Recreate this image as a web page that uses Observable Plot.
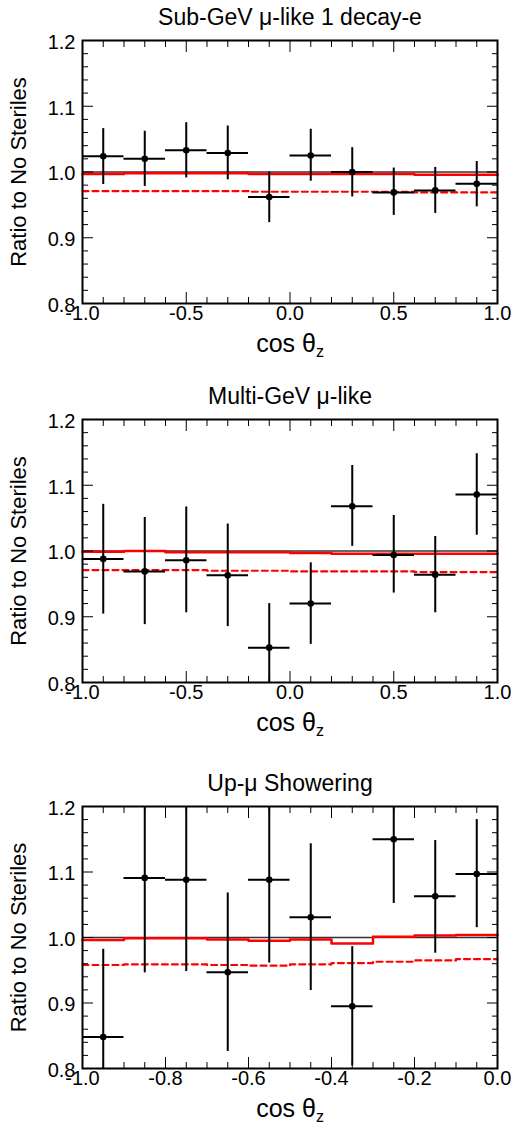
<!DOCTYPE html>
<html><head><meta charset="utf-8">
<script src="https://cdn.jsdelivr.net/npm/d3@7"></script>
<script src="https://cdn.jsdelivr.net/npm/@observablehq/plot@0.6"></script>
<style>body{margin:0;background:#fff;} #c svg{display:block;}</style>
</head><body><div id="c"></div>
<script>
// ---- data ----
const titles = ["Sub-GeV \u03bc-like 1 decay-e", "Multi-GeV \u03bc-like", "Up-\u03bc Showering"];
const yLabel = "Ratio to No Steriles";
const xLabel = "cos \u03b8z";

const centersFull = [-0.9, -0.7, -0.5, -0.3, -0.1, 0.1, 0.3, 0.5, 0.7, 0.9];
const centersUp = [-0.95, -0.85, -0.75, -0.65, -0.55, -0.45, -0.35, -0.25, -0.15, -0.05];

const p1Val = [1.024, 1.020, 1.033, 1.029, 0.962, 1.025, 1.000, 0.969, 0.972, 0.982];
const p1Lo  = [0.981, 0.978, 0.991, 0.988, 0.923, 0.986, 0.962, 0.934, 0.937, 0.947];
const p1Hi  = [1.066, 1.062, 1.075, 1.070, 1.000, 1.065, 1.037, 1.006, 1.007, 1.016];
const p1Solid = [0.997, 0.998, 0.998, 0.998, 0.997, 0.997, 0.997, 0.997, 0.996, 0.996];
const p1Dash  = [0.971, 0.971, 0.971, 0.971, 0.970, 0.970, 0.970, 0.970, 0.969, 0.969];

const p2Val = [0.988, 0.969, 0.986, 0.963, 0.853, 0.920, 1.068, 0.994, 0.964, 1.086];
const p2Lo  = [0.904, 0.888, 0.906, 0.885, 0.786, 0.858, 1.007, 0.936, 0.906, 1.024];
const p2Hi  = [1.071, 1.051, 1.067, 1.041, 0.920, 0.982, 1.130, 1.054, 1.022, 1.148];
const p2Solid = [0.999, 1.000, 0.998, 0.998, 0.998, 0.997, 0.996, 0.996, 0.996, 0.996];
const p2Dash  = [0.971, 0.971, 0.971, 0.970, 0.970, 0.969, 0.969, 0.969, 0.968, 0.968];

const p3Val = [0.848, 1.091, 1.088, 0.947, 1.088, 1.031, 0.895, 1.150, 1.063, 1.097];
const p3Lo  = [0.710, 0.946, 0.948, 0.826, 0.961, 0.919, 0.804, 1.052, 0.976, 1.015];
const p3Hi  = [0.982, 1.240, 1.240, 1.068, 1.230, 1.143, 0.986, 1.250, 1.148, 1.180];
const p3Solid = [0.996, 0.999, 0.999, 0.997, 0.995, 0.997, 0.991, 1.001, 1.003, 1.004];
const p3Dash  = [0.958, 0.959, 0.959, 0.958, 0.957, 0.959, 0.961, 0.963, 0.965, 0.967];

const yMajor = [0.8, 0.9, 1.0, 1.1, 1.2];
const xMajorFull = [-1.0, -0.5, 0.0, 0.5, 1.0];
const xMajorUp = [-1.0, -0.8, -0.6, -0.4, -0.2, 0.0];

// ---- helpers ----
const FONT = "'Liberation Sans', Arial, Helvetica, sans-serif";
const fmt = d => (d < 0 ? "-" : "") + Math.abs(d).toFixed(1);
const minor = (a, b, step, majors) => d3.range(Math.round((b - a) / step) + 1)
  .map(i => +(a + i * step).toFixed(4))
  .filter(v => !majors.some(m => Math.abs(m - v) < 1e-6));
const yMinor = minor(0.8, 1.2, 0.02, yMajor);

function panel({title, centers, xDomain, xMajor, xMinorStep, val, lo, hi, solid, dash, height, marginBottom}) {
  const bw = centers[1] - centers[0];
  const pts = centers.map((c, i) => ({x: c, x0: c - bw / 2, x1: c + bw / 2, v: val[i], lo: lo[i], hi: hi[i]}));
  const step = arr => [...centers.map((c, i) => ({x: c - bw / 2, v: arr[i]})),
                       {x: centers[centers.length - 1] + bw / 2, v: arr[arr.length - 1]}];
  const xMinor = minor(xDomain[0], xDomain[1], xMinorStep, xMajor);
  const noText = () => "";
  const svg = Plot.plot({
    width: 511, height, marginLeft: 82, marginRight: 14, marginTop: 40, marginBottom,
    style: {fontFamily: FONT, color: "black", background: "white", overflow: "visible"},
    x: {domain: xDomain, axis: null},
    y: {domain: [0.8, 1.2], axis: null},
    marks: [
      Plot.ruleY([1], {stroke: "#333", strokeWidth: 1.5}),
      Plot.line(step(solid), {x: "x", y: "v", curve: "step-after", stroke: "#ff0000", strokeWidth: 2.5}),
      Plot.line(step(dash), {x: "x", y: "v", curve: "step-after", stroke: "#ff0000", strokeWidth: 2.2, strokeDasharray: "6,4"}),
      Plot.ruleX(pts, {x: "x", y1: "lo", y2: "hi", stroke: "black", strokeWidth: 2, clip: true}),
      Plot.ruleY(pts, {y: "v", x1: "x0", x2: "x1", stroke: "black", strokeWidth: 2, clip: true}),
      Plot.dot(pts, {x: "x", y: "v", r: 3.3, fill: "black", clip: true}),
      // inward ticks
      Plot.axisY({ticks: yMajor, anchor: "left", tickSize: -11, tickFormat: noText, label: null}),
      Plot.axisY({ticks: yMinor, anchor: "left", tickSize: -6, tickFormat: noText, label: null}),
      Plot.axisY({ticks: yMajor, anchor: "right", tickSize: -11, tickFormat: noText, label: null}),
      Plot.axisY({ticks: yMinor, anchor: "right", tickSize: -6, tickFormat: noText, label: null}),
      Plot.axisX({ticks: xMajor, anchor: "bottom", tickSize: -11, tickFormat: noText, label: null}),
      Plot.axisX({ticks: xMinor, anchor: "bottom", tickSize: -6, tickFormat: noText, label: null}),
      Plot.axisX({ticks: xMajor, anchor: "top", tickSize: -11, tickFormat: noText, label: null}),
      Plot.axisX({ticks: xMinor, anchor: "top", tickSize: -6, tickFormat: noText, label: null}),
      // tick labels
      Plot.axisY({ticks: yMajor, anchor: "left", tickSize: 0, tickPadding: 7, tickFormat: fmt, fontSize: 20, label: null, dy: 2}),
      Plot.axisX({ticks: xMajor, anchor: "bottom", tickSize: 0, tickPadding: 2, tickFormat: fmt, fontSize: 20, label: null}),
      Plot.frame({stroke: "black", strokeWidth: 2}),
      // titles and axis labels
      Plot.text([title], {frameAnchor: "top", dy: -23, lineAnchor: "middle", fontSize: 23, fill: "black"}),
      Plot.text([yLabel], {frameAnchor: "left", dx: -64, rotate: -90, textAnchor: "middle", lineAnchor: "middle", fontSize: 22, fill: "black"}),
      Plot.text([xLabel], {frameAnchor: "bottom", dy: 40, lineAnchor: "middle", fontSize: 25, fill: "black", className: "xlab"})
    ]
  });
  d3.select(svg).selectAll(".xlab text").each(function() {
    const t = d3.select(this);
    const s = this.textContent;
    t.text("");
    t.append("tspan").text(s.slice(0, -1));
    t.append("tspan").attr("font-size", 16).attr("dy", "0.35em").text(s.slice(-1));
  });
  return svg;
}

const c = document.getElementById("c");
c.append(panel({title: titles[0], centers: centersFull, xDomain: [-1, 1], xMajor: xMajorFull, xMinorStep: 0.1,
  val: p1Val, lo: p1Lo, hi: p1Hi, solid: p1Solid, dash: p1Dash, height: 379, marginBottom: 76}));
c.append(panel({title: titles[1], centers: centersFull, xDomain: [-1, 1], xMajor: xMajorFull, xMinorStep: 0.1,
  val: p2Val, lo: p2Lo, hi: p2Hi, solid: p2Solid, dash: p2Dash, height: 387, marginBottom: 84}));
c.append(panel({title: titles[2], centers: centersUp, xDomain: [-1, 0], xMajor: xMajorUp, xMinorStep: 0.05,
  val: p3Val, lo: p3Lo, hi: p3Hi, solid: p3Solid, dash: p3Dash, height: 359, marginBottom: 57}));
</script>
</body></html>
